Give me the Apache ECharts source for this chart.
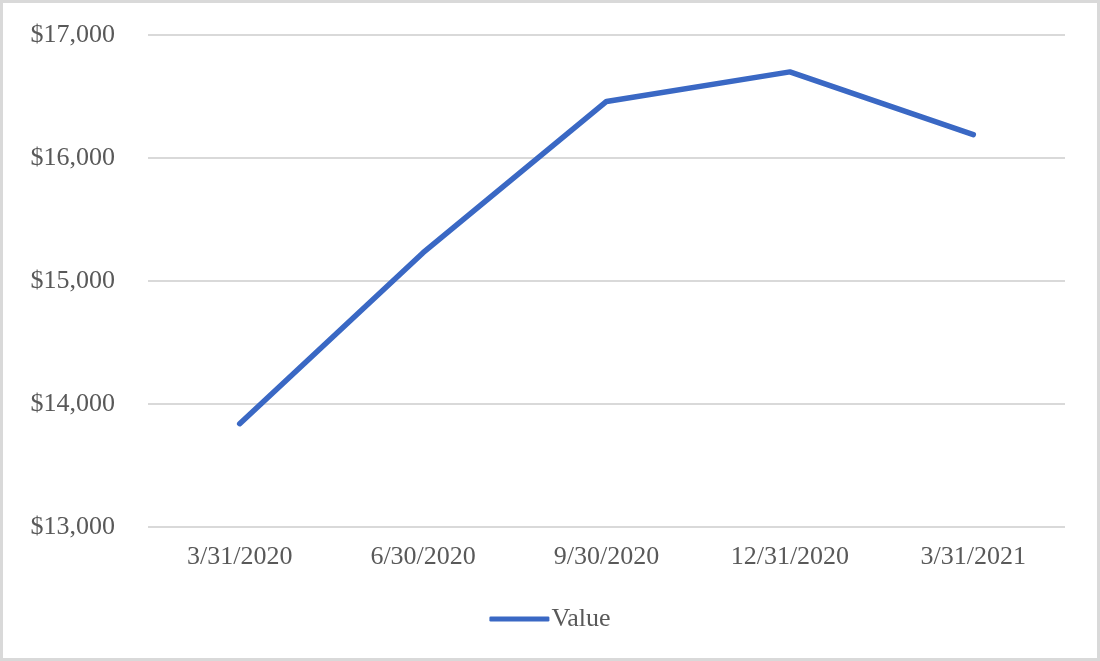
<!DOCTYPE html>
<html>
<head>
<meta charset="utf-8">
<script src="https://cdn.jsdelivr.net/npm/echarts@6/dist/echarts.min.js"></script>
<style>
html,body{margin:0;padding:0;background:#fff;}
#wrap{width:1100px;height:661px;box-sizing:border-box;border:3px solid #d9d9d9;background:#fff;}
#chart{width:1094px;height:655px;}
</style>
</head>
<body>
<div id="wrap"><div id="chart"></div></div>
<script>
const categories = ['3/31/2020', '6/30/2020', '9/30/2020', '12/31/2020', '3/31/2021'];
const values = [13840, 15230, 16460, 16700, 16190];
const seriesName = 'Value';
const yMin = 13000, yMax = 17000, yStep = 1000;

const chart = echarts.init(document.getElementById('chart'));
const font = '"Liberation Serif", "Times New Roman", serif';
chart.setOption({
  animation: false,
  grid: { left: 145, right: 32, top: 32, bottom: 131 },
  xAxis: {
    type: 'category',
    data: categories,
    boundaryGap: true,
    axisLine: { show: false },
    axisTick: { show: false },
    axisLabel: { color: '#595959', fontFamily: font, fontSize: 26, margin: 17 }
  },
  yAxis: {
    type: 'value',
    min: yMin, max: yMax, interval: yStep,
    axisLine: { show: false },
    axisTick: { show: false },
    splitLine: { lineStyle: { color: '#d9d9d9', width: 2 } },
    axisLabel: {
      color: '#595959', fontFamily: font, fontSize: 26, margin: 33,
      formatter: v => '$' + v.toLocaleString('en-US')
    }
  },
  legend: {
    top: 598, left: 'center',
    icon: 'roundRect', itemWidth: 60, itemHeight: 5, itemGap: 10,
    textStyle: { color: '#595959', fontFamily: font, fontSize: 26, padding: [0,0,0,-3] },
    data: [seriesName]
  },
  series: [{
    name: seriesName,
    type: 'line',
    data: values,
    symbol: 'none',
    lineStyle: { color: '#3a68c4', width: 5.5, cap: 'round', join: 'round' },
    itemStyle: { color: '#3a68c4' }
  }]
});
</script>
</body>
</html>
